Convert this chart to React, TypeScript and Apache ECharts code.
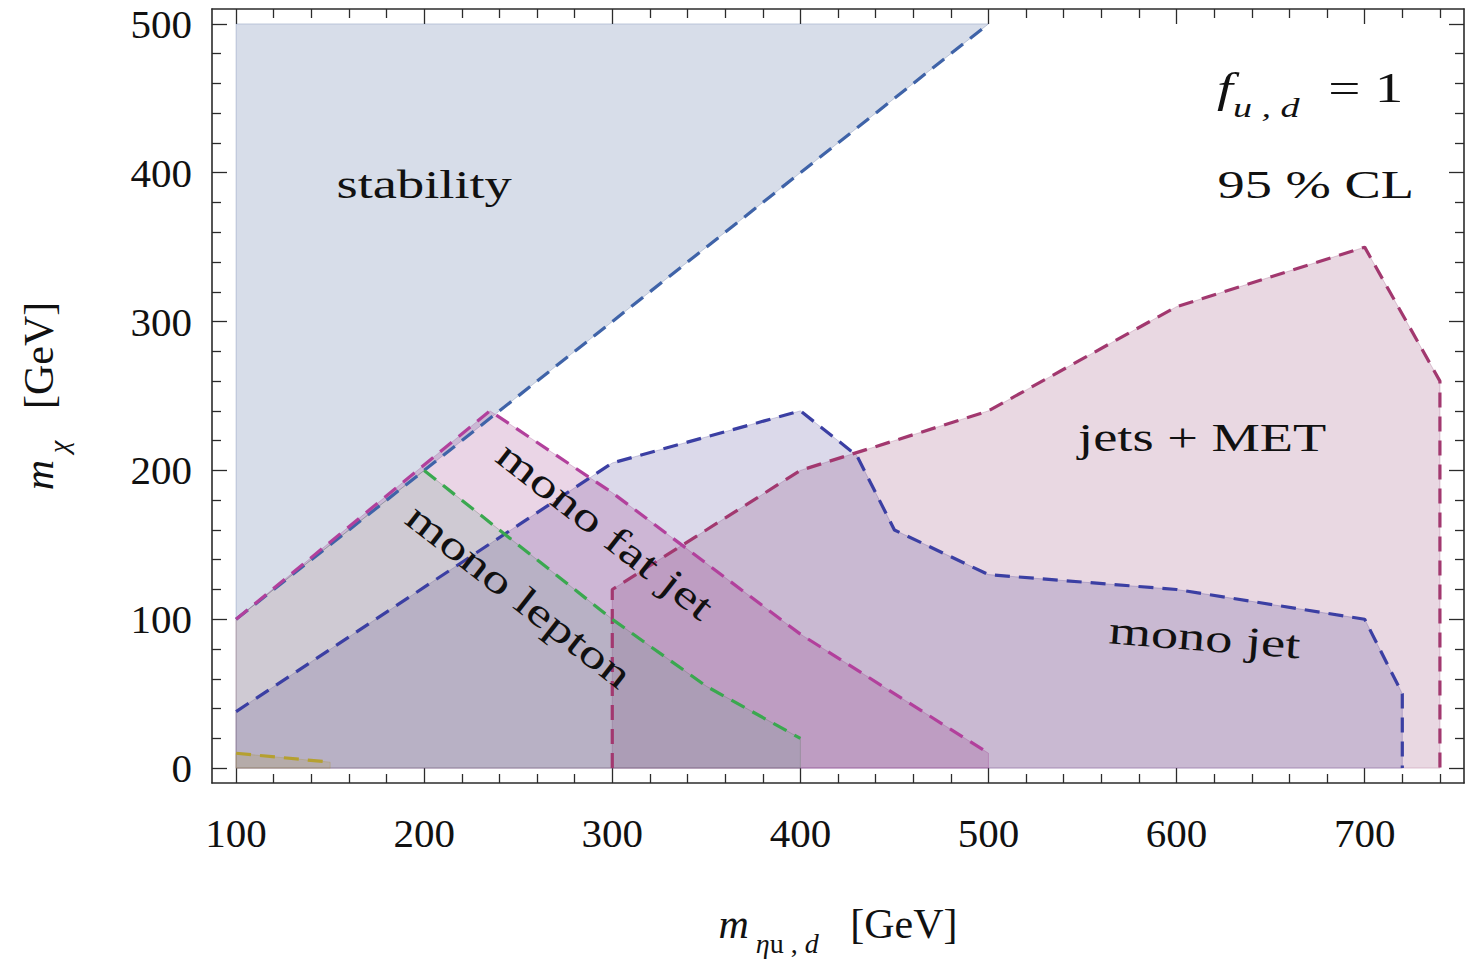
import React, { useEffect, useRef } from "react";
import * as echarts from "echarts";

const X_MIN = 87.2;
const X_MAX = 752.8;
const Y_MIN = -10;
const Y_MAX = 510;

const xMajorTicks = [100, 200, 300, 400, 500, 600, 700];
const xMinorTicks = [120, 140, 160, 180, 220, 240, 260, 280, 320, 340, 360, 380, 420, 440, 460, 480, 520, 540, 560, 580, 620, 640, 660, 680, 720, 740];
const yMajorTicks = [0, 100, 200, 300, 400, 500];
const yMinorTicks = [20, 40, 60, 80, 120, 140, 160, 180, 220, 240, 260, 280, 320, 340, 360, 380, 420, 440, 460, 480];

// boundary curves (m_eta, m_chi) in GeV
const stabilityEdge = [[100, 100], [500, 500]];
const stabilityRegion = [[100, 100], [500, 500], [100, 500]];
const jetsMetEdge = [[300, 0], [300, 120], [400, 200], [500, 240], [600, 310], [700, 350], [740, 260], [740, 0]];
const monoJetEdge = [[100, 38], [300, 205], [400, 240], [430, 210], [450, 160], [500, 130], [600, 120], [700, 100], [720, 50], [720, 0]];
const fatJetEdge = [[100, 100], [235, 240], [300, 185], [400, 90], [500, 10]];
const leptonEdge = [[200, 200], [300, 100], [350, 55], [400, 20]];
const softEdge = [[100, 10], [150, 4]];

const jetsMetRegion = jetsMetEdge;
const monoJetRegion = [[100, 0], ...monoJetEdge];
const fatJetRegion = [[100, 0], ...fatJetEdge, [500, 0]];
const leptonRegion = [[100, 0], [100, 100], ...leptonEdge, [400, 0]];
const softRegion = [[100, 0], ...softEdge, [150, 0]];

// in-plot labels
const labelTexts = [
  "stability",
  "jets + MET",
  "mono jet",
  "mono fat jet",
  "mono lepton",
  "{fi|f}{si|u , d}{n|  = 1}",
  "95 % CL",
];
const labelX = [200, 613.6, 615, 296.4, 250.6, 671, 674];
const labelY = [392, 222.4, 88, 159.8, 116, 457, 392];
const labelAngle = [0, 0, -4.5, -38, -38, 0, 0];

const FONT = '"Liberation Serif", "Times New Roman", Times, serif';
const TEXT_COLOR = "#111";
const FRAME = "#2b2b2b";

const richStyles = {
  fi: { fontFamily: FONT, fontStyle: "italic", fontSize: 42, lineHeight: 42, verticalAlign: "middle", color: TEXT_COLOR },
  i: { fontFamily: FONT, fontStyle: "italic", fontSize: 42, lineHeight: 42, verticalAlign: "middle", color: TEXT_COLOR },
  n: { fontFamily: FONT, fontSize: 42, lineHeight: 42, verticalAlign: "middle", color: TEXT_COLOR },
  si: { fontFamily: FONT, fontStyle: "italic", fontSize: 28, lineHeight: 28, padding: [38, 0, 0, 0], verticalAlign: "middle", color: TEXT_COLOR },
  su: { fontFamily: FONT, fontSize: 28, lineHeight: 28, padding: [38, 0, 0, 0], verticalAlign: "middle", color: TEXT_COLOR },
};

function polygonSeries(name: string, pts: number[][], fill: string, stroke: string, z: number) {
  return {
    type: "custom",
    name,
    coordinateSystem: "cartesian2d",
    xAxisIndex: 0,
    yAxisIndex: 0,
    silent: true,
    z,
    data: [pts[0]],
    renderItem: (_params: any, api: any) => ({
      type: "polygon",
      shape: { points: pts.map((p) => api.coord(p)) },
      style: { fill, stroke, lineWidth: 1 },
    }),
  };
}

function edgeSeries(name: string, pts: number[][], color: string) {
  return {
    type: "line",
    name,
    xAxisIndex: 0,
    yAxisIndex: 0,
    data: pts,
    symbol: "none",
    silent: true,
    z: 10,
    lineStyle: { color, width: 3.2, type: [15, 9] },
  };
}

function tickAxis(kind: "x" | "y", position: string, values: number[], length: number, withLine: boolean) {
  return {
    type: "value",
    position,
    min: kind === "x" ? X_MIN : Y_MIN,
    max: kind === "x" ? X_MAX : Y_MAX,
    axisLine: { show: withLine, onZero: false, lineStyle: { color: FRAME, width: 1.6 } },
    axisTick: { show: true, inside: true, length, customValues: values, lineStyle: { color: FRAME, width: 1.3 } },
    axisLabel: { show: false },
    splitLine: { show: false },
  };
}

export default function App() {
  const ref = useRef<HTMLDivElement>(null);

  useEffect(() => {
    if (!ref.current) return;
    const chart = echarts.init(ref.current, null, { renderer: "svg" });

    const option: any = {
      animation: false,
      backgroundColor: "#ffffff",
      grid: { left: 212, right: 6, top: 9, bottom: 182, containLabel: false, outerBoundsMode: "none" },
      xAxis: [
        {
          type: "value",
          position: "bottom",
          min: X_MIN,
          max: X_MAX,
          axisLine: { show: true, onZero: false, lineStyle: { color: FRAME, width: 1.6 } },
          axisTick: { show: true, inside: true, length: 15, customValues: xMajorTicks, lineStyle: { color: FRAME, width: 1.3 } },
          axisLabel: { customValues: xMajorTicks, margin: 29, fontFamily: FONT, fontSize: 41, color: TEXT_COLOR },
          splitLine: { show: false },
          name: "{i|m}{si| η}{su|u , }{si|d}{n|   [GeV]}",
          nameLocation: "middle",
          nameGap: 120,
          nameTextStyle: { fontFamily: FONT, fontSize: 42, color: TEXT_COLOR, rich: richStyles },
        },
        tickAxis("x", "bottom", xMinorTicks, 9, false),
        tickAxis("x", "top", xMajorTicks, 15, true),
        tickAxis("x", "top", xMinorTicks, 9, false),
      ],
      yAxis: [
        {
          type: "value",
          position: "left",
          min: Y_MIN,
          max: Y_MAX,
          axisLine: { show: true, onZero: false, lineStyle: { color: FRAME, width: 1.6 } },
          axisTick: { show: true, inside: true, length: 15, customValues: yMajorTicks, lineStyle: { color: FRAME, width: 1.3 } },
          axisLabel: { customValues: yMajorTicks, margin: 20, fontFamily: FONT, fontSize: 41, color: TEXT_COLOR },
          splitLine: { show: false },
          name: "{i|m}{si| χ}{n|   [GeV]}",
          nameLocation: "middle",
          nameRotate: 90,
          nameGap: 152,
          nameTextStyle: { fontFamily: FONT, fontSize: 42, color: TEXT_COLOR, rich: richStyles },
        },
        tickAxis("y", "left", yMinorTicks, 9, false),
        tickAxis("y", "right", yMajorTicks, 15, true),
        tickAxis("y", "right", yMinorTicks, 9, false),
      ],
      series: [
        polygonSeries("stability", stabilityRegion, "rgba(55,85,145,0.2)", "rgba(55,85,145,0.25)", 1),
        polygonSeries("jets + MET", jetsMetRegion, "rgba(145,60,110,0.2)", "rgba(145,60,110,0.25)", 2),
        polygonSeries("mono jet", monoJetRegion, "rgba(75,65,150,0.2)", "rgba(75,65,150,0.25)", 3),
        polygonSeries("mono fat jet", fatJetRegion, "rgba(150,45,130,0.2)", "rgba(150,45,130,0.25)", 4),
        polygonSeries("mono lepton", leptonRegion, "rgba(99,158,135,0.2)", "rgba(110,120,110,0.35)", 5),
        polygonSeries("soft", softRegion, "rgba(170,150,60,0.2)", "rgba(170,150,60,0.3)", 6),
        edgeSeries("stability edge", stabilityEdge, "#3f63a8"),
        edgeSeries("jets + MET edge", jetsMetEdge, "#a2386f"),
        edgeSeries("mono jet edge", monoJetEdge, "#3b3fa3"),
        edgeSeries("mono fat jet edge", fatJetEdge, "#b2409c"),
        edgeSeries("mono lepton edge", leptonEdge, "#3aa84f"),
        edgeSeries("soft edge", softEdge, "#b5a030"),
        {
          type: "custom",
          name: "labels",
          coordinateSystem: "cartesian2d",
          xAxisIndex: 0,
          yAxisIndex: 0,
          silent: true,
          z: 20,
          data: labelX.map((x, i) => [x, labelY[i]]),
          renderItem: (params: any, api: any) => {
            const i = params.dataIndex;
            const p = api.coord([api.value(0), api.value(1)]);
            return {
              type: "text",
              x: p[0],
              y: p[1],
              rotation: (labelAngle[i] * Math.PI) / 180,
              scaleX: 1.36,
              style: {
                text: labelTexts[i],
                fontFamily: FONT,
                fontSize: 40,
                fill: TEXT_COLOR,
                align: "center",
                verticalAlign: "middle",
                textAlign: "center",
                textVerticalAlign: "middle",
                rich: richStyles,
              },
            };
          },
        },
      ],
    };

    chart.setOption(option);
    return () => chart.dispose();
  }, []);

  return (
    <div
      ref={ref}
      style={{ position: "fixed", left: 0, top: 0, width: 1470, height: 965, background: "#fff" }}
    />
  );
}
